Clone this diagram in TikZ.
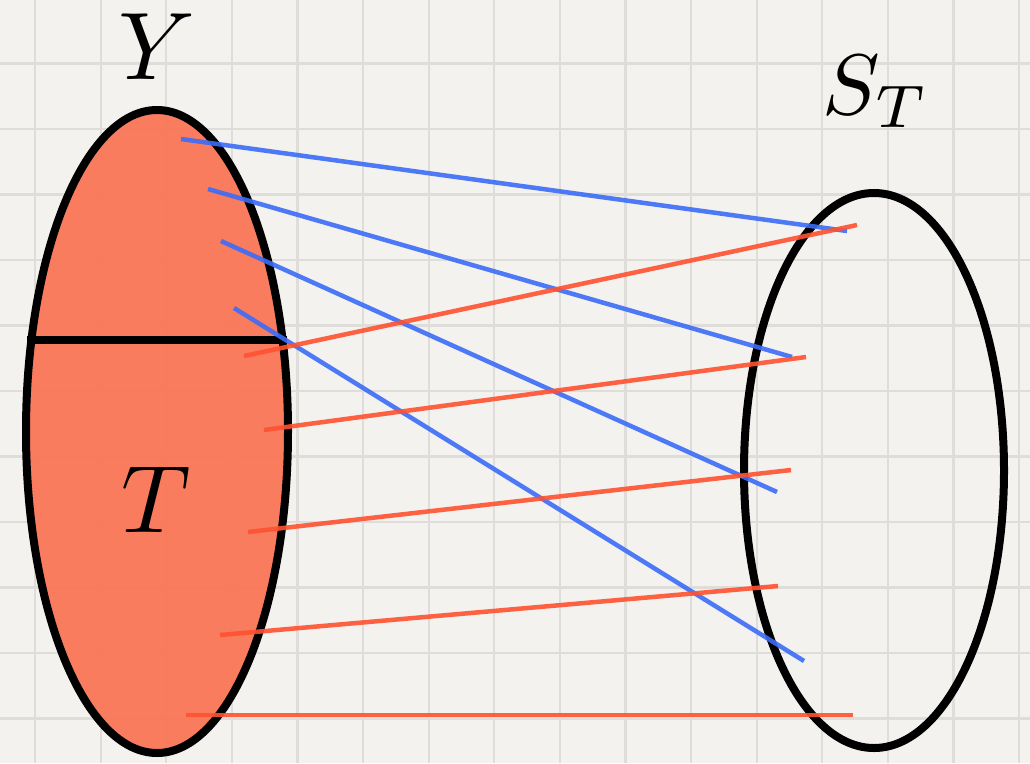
\documentclass[tikz,border=0pt]{standalone}
\usepackage{tikz}
\usetikzlibrary{shapes.geometric}
\definecolor{paper}{HTML}{F3F2EE}
\definecolor{gridc}{HTML}{DEDDD9}
\definecolor{setfill}{HTML}{FA7658}
\definecolor{redl}{HTML}{FF5230}
\definecolor{bluel}{HTML}{3B6CF8}
\begin{document}
\begin{tikzpicture}[x=1pt,y=-1pt,
  setline/.style={line width=8pt,black},
  bl/.style={line width=4.5pt,bluel,opacity=0.9},
  rl/.style={line width=4.5pt,redl,opacity=0.9},
  lab/.style={inner sep=0pt,font=\fontsize{10}{10}\selectfont,scale=9.6}]
\useasboundingbox (0,0) rectangle (1030,763);
\fill[paper] (0,0) rectangle (1030,763);
% grid
\foreach \k in {0,...,15} {\draw[gridc,line width=2.2pt] ({35+65.6*\k},0) -- ({35+65.6*\k},763);}
\foreach \k in {1,...,11} {\draw[gridc,line width=2.2pt] (0,{-2+65.5*\k}) -- (1030,{-2+65.5*\k});}
% left set
\fill[setfill,opacity=0.95] (157,431.5) ellipse [x radius=131, y radius=321.5];
\node[ellipse,minimum width=262pt,minimum height=643pt] (Yset) at (157,431.5) {};
\draw[setline] (27,340) -- (287,340);
\draw[setline] (157,431.5) ellipse [x radius=131, y radius=321.5];
% right set
\node (STset) at (874,470.5) {};
\draw[setline] (STset.center) ellipse [x radius=130, y radius=277.5];
% labels
\node[lab] (Ylab) at (157,47) {$Y$};
\node[lab] (Tlab) at (156,500) {$T$};
\node[lab,scale=8.6/9.6] (STlab) at (876,92) {$S_T$};
% endpoints
\coordinate (b1s) at (181,139); \coordinate (b1e) at (847,231);
\coordinate (b2s) at (208,189); \coordinate (b2e) at (792,357);
\coordinate (b3s) at (221,241); \coordinate (b3e) at (777,492);
\coordinate (b4s) at (234,308); \coordinate (b4e) at (804,661);
\coordinate (r1s) at (244,356); \coordinate (r1e) at (857,225);
\coordinate (r2s) at (264,430); \coordinate (r2e) at (806,357);
\coordinate (r3s) at (248,532); \coordinate (r3e) at (791,470);
\coordinate (r4s) at (220,635); \coordinate (r4e) at (778,586);
\coordinate (r5s) at (186,715); \coordinate (r5e) at (853,715);
\foreach \i in {1,...,4} {\draw[bl] (b\i s) -- (b\i e);}
\foreach \i in {1,...,5} {\draw[rl] (r\i s) -- (r\i e);}
\end{tikzpicture}
\end{document}
